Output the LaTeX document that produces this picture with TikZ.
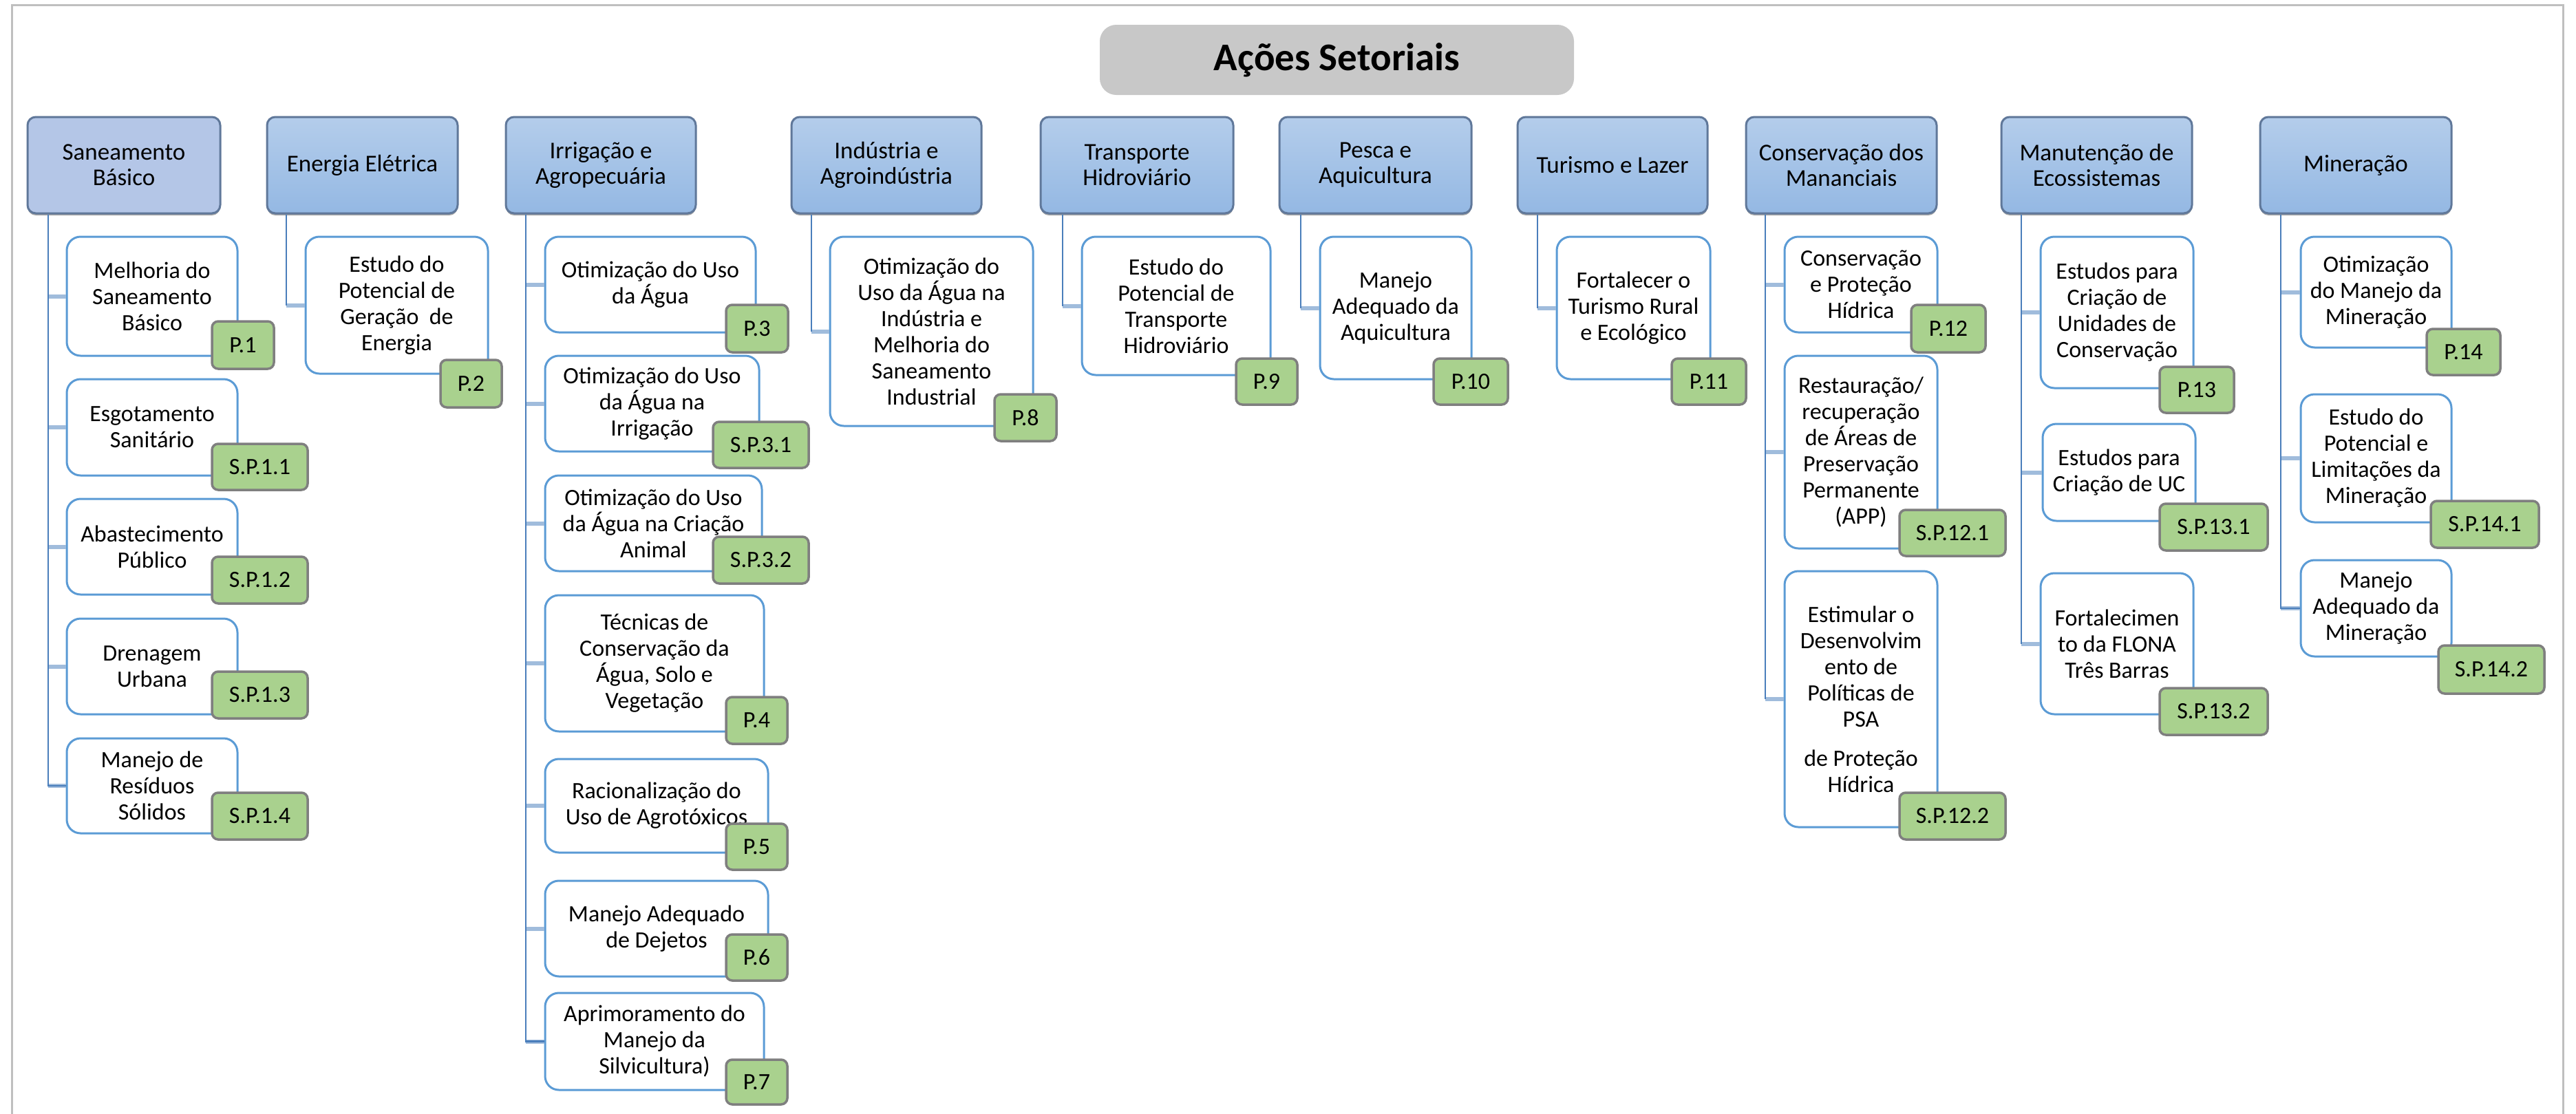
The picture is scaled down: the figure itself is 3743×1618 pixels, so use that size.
\documentclass[tikz,border=0pt]{standalone}
\usepackage{fontspec}
\setmainfont{Carlito}
\usetikzlibrary{shadows}
\definecolor{framegray}{HTML}{BFBFBF}
\definecolor{titlegray}{HTML}{C8C8C8}
\definecolor{hdrtop}{HTML}{B4CDEB}
\definecolor{hdrbot}{HTML}{94B8E3}
\definecolor{hdrline}{HTML}{60789A}
\definecolor{sanfill}{HTML}{B4C6E7}
\definecolor{boxline}{HTML}{5B9BD5}
\definecolor{tagfill}{HTML}{A9D18E}
\definecolor{tagline}{HTML}{7F7F7F}
\definecolor{vlinec}{HTML}{4A7EBB}
\definecolor{stubc}{HTML}{A0BCDC}
\newcommand\hdrfont{\fontsize{35}{37}\selectfont}
\newcommand\boxfont{\fontsize{34}{38}\selectfont}
\newcommand\tagfont{\fontsize{34}{36}\selectfont}
\newcommand\ttlfont{\fontsize{57}{62}\selectfont\bfseries}
\newcommand\bx[7]{\node[#1, minimum width={(#5)-(#3)}, minimum height={(#6)-(#4)}] (#2) at ({((#3)+(#5))/2},{((#4)+(#6))/2}) {#7};}
\begin{document}
\begin{tikzpicture}[x=1pt,y=-1pt,
  hdr/.style={draw=hdrline, line width=3pt, rounded corners=12pt, top color=hdrtop, bottom color=hdrbot, align=center, font=\hdrfont, inner sep=0pt,
    drop shadow={shadow xshift=0pt, shadow yshift=-3pt, fill=black, opacity=0.35}},
  hdrsel/.style={hdr, top color=sanfill, bottom color=sanfill},
  cbox/.style={draw=boxline, line width=3pt, rounded corners=20pt, fill=white, align=center, font=\boxfont, inner sep=0pt},
  tagbox/.style={draw=tagline, line width=3.5pt, rounded corners=9pt, fill=tagfill, align=center, font=\tagfont, inner sep=0pt},
  ttlbox/.style={fill=titlegray, rounded corners=24pt, font=\ttlfont, inner sep=0pt},
  vl/.style={draw=vlinec, line width=2.5pt},
  stubl/.style={draw=stubc, line width=6pt}]
\useasboundingbox (0,0) rectangle (3743,1618);
\draw[framegray, line width=3pt] (17.5,1660) -- (17.5,7) -- (3724,7) -- (3724,1660);

% title
\bx{ttlbox}{title}{1598}{36}{2287}{138}{Ações Setoriais}

% headers
\bx{hdrsel}{h1}{40}{170}{320}{310}{Saneamento\\Básico}
\bx{hdr}{h2}{388}{170}{665}{310}{Energia Elétrica}
\bx{hdr}{h3}{735}{170}{1011}{310}{Irrigação e\\Agropecuária}
\bx{hdr}{h4}{1150}{170}{1426}{310}{Indústria e\\Agroindústria}
\bx{hdr}{h5}{1512}{170}{1792}{310}{Transporte\\Hidroviário}
\bx{hdr}{h6}{1859}{170}{2138}{310}{Pesca e\\Aquicultura}
\bx{hdr}{h7}{2205}{170}{2481}{310}{Turismo e Lazer}
\bx{hdr}{h8}{2537}{170}{2814}{310}{Conservação dos\\Mananciais}
\bx{hdr}{h9}{2908}{170}{3185}{310}{Manutenção de\\Ecossistemas}
\bx{hdr}{h10}{3284}{170}{3562}{310}{Mineração}

% children
\bx{cbox}{c1a}{97}{344}{345}{517}{Melhoria do\\Saneamento\\Básico}
\bx{cbox}{c1b}{97}{551}{345}{691}{Esgotamento\\Sanitário}
\bx{cbox}{c1c}{97}{725}{345}{864}{Abastecimento\\Público}
\bx{cbox}{c1d}{97}{899}{345}{1038}{Drenagem\\Urbana}
\bx{cbox}{c1e}{97}{1073}{345}{1211}{Manejo de\\Resíduos\\Sólidos}

\bx{cbox}{c2a}{444}{344}{709}{543}{Estudo do\\Potencial de\\Geração\ \ de\\Energia}

\bx{cbox}{c3a}{792}{344}{1098}{483}{Otimização do Uso\\da Água}
\bx{cbox}{c3b}{792}{517}{1103}{656}{Otimização do Uso\\da Água na\\Irrigação}
\bx{cbox}{c3c}{792}{691}{1107}{830}{Otimização do Uso\\da Água na Criação\\Animal}
\bx{cbox}{c3d}{792}{865}{1110}{1063}{Técnicas de\\Conservação da\\Água, Solo e\\Vegetação}
\bx{cbox}{c3e}{792}{1103}{1116}{1239}{Racionalização do\\Uso de Agrotóxicos}
\bx{cbox}{c3f}{792}{1280}{1116}{1419}{Manejo Adequado\\de Dejetos}
\bx{cbox}{c3g}{792}{1443}{1110}{1584}{Aprimoramento do\\Manejo da\\Silvicultura)}

\bx{cbox}{c4a}{1206}{344}{1501}{619}{Otimização do\\Uso da Água na\\Indústria e\\Melhoria do\\Saneamento\\Industrial}
\bx{cbox}{c5a}{1572}{344}{1846}{545}{Estudo do\\Potencial de\\Transporte\\Hidroviário}
\bx{cbox}{c6a}{1918}{344}{2138}{551}{Manejo\\Adequado da\\Aquicultura}
\bx{cbox}{c7a}{2262}{344}{2485}{551}{Fortalecer o\\Turismo Rural\\e Ecológico}

\bx{cbox}{c8a}{2593}{344}{2815}{483}{Conservação\\e Proteção\\Hídrica}
\bx{cbox}{c8b}{2593}{517}{2815}{797}{Restauração/\\recuperação\\de Áreas de\\Preservação\\Permanente\\(APP)}
\bx{cbox}{c8c}{2593}{830}{2815}{1202}{Estimular o\\Desenvolvim\\ento de\\Políticas de\\PSA\\[19pt]de Proteção\\Hídrica}

\bx{cbox}{c9a}{2965}{344}{3187}{564}{Estudos para\\Criação de\\Unidades de\\Conservação}
\bx{cbox}{c9b}{2968}{616}{3190}{757}{Estudos para\\Criação de UC}
\bx{cbox}{c9c}{2965}{833}{3187}{1038}{Fortalecimen\\to da FLONA\\Três Barras}

\bx{cbox}{c10a}{3343}{344}{3562}{505}{Otimização\\do Manejo da\\Mineração}
\bx{cbox}{c10b}{3343}{573}{3562}{759}{Estudo do\\Potencial e\\Limitações da\\Mineração}
\bx{cbox}{c10c}{3343}{814}{3562}{954}{Manejo\\Adequado da\\Mineração}

% connectors
\coordinate (v1) at (70,0);
\coordinate (v2) at (416,0);
\coordinate (v3) at (764,0);
\coordinate (v4) at (1179,0);
\coordinate (v5) at (1544,0);
\coordinate (v6) at (1890,0);
\coordinate (v7) at (2234,0);
\coordinate (v8) at (2565,0);
\coordinate (v9) at (2937,0);
\coordinate (v10) at (3314,0);

\foreach \c in {c1a,c1b,c1c,c1d,c1e} \draw[stubl] (v1 |- \c.west) -- (\c.west);
\draw[vl] (v1 |- h1.south) -- (v1 |- c1e.west) -- (c1e.west);
\draw[stubl] (v2 |- c2a.west) -- (c2a.west);
\draw[vl] (v2 |- h2.south) -- (v2 |- c2a.west);
\foreach \c in {c3a,c3b,c3c,c3d,c3e,c3f,c3g} \draw[stubl] (v3 |- \c.west) -- (\c.west);
\draw[vl] (v3 |- h3.south) -- (v3 |- c3g.west) -- (c3g.west);
\draw[stubl] (v4 |- c4a.west) -- (c4a.west);
\draw[vl] (v4 |- h4.south) -- (v4 |- c4a.west);
\draw[stubl] (v5 |- c5a.west) -- (c5a.west);
\draw[vl] (v5 |- h5.south) -- (v5 |- c5a.west);
\draw[stubl] (v6 |- c6a.west) -- (c6a.west);
\draw[vl] (v6 |- h6.south) -- (v6 |- c6a.west);
\draw[stubl] (v7 |- c7a.west) -- (c7a.west);
\draw[vl] (v7 |- h7.south) -- (v7 |- c7a.west);
\foreach \c in {c8a,c8b,c8c} \draw[stubl] (v8 |- \c.west) -- (\c.west);
\draw[vl] (v8 |- h8.south) -- (v8 |- c8c.west);
\foreach \c in {c9a,c9b,c9c} \draw[stubl] (v9 |- \c.west) -- (\c.west);
\draw[vl] (v9 |- h9.south) -- (v9 |- c9c.west);
\foreach \c in {c10a,c10b,c10c} \draw[stubl] (v10 |- \c.west) -- (\c.west);
\draw[vl] (v10 |- h10.south) -- (v10 |- c10c.west) -- (c10c.west);

% tags
\bx{tagbox}{t1a}{308}{467}{398}{536}{P.1}
\bx{tagbox}{t1b}{308}{645}{447}{712}{S.P.1.1}
\bx{tagbox}{t1c}{308}{809}{447}{877}{S.P.1.2}
\bx{tagbox}{t1d}{308}{976}{447}{1044}{S.P.1.3}
\bx{tagbox}{t1e}{308}{1152}{447}{1220}{S.P.1.4}
\bx{tagbox}{t2a}{640}{523}{729}{592}{P.2}
\bx{tagbox}{t3a}{1055}{443}{1145}{512}{P.3}
\bx{tagbox}{t3b}{1036}{613}{1175}{680}{S.P.3.1}
\bx{tagbox}{t3c}{1036}{780}{1175}{848}{S.P.3.2}
\bx{tagbox}{t3d}{1055}{1013}{1144}{1081}{P.4}
\bx{tagbox}{t3e}{1055}{1197}{1144}{1264}{P.5}
\bx{tagbox}{t3f}{1055}{1358}{1144}{1425}{P.6}
\bx{tagbox}{t3g}{1055}{1540}{1144}{1605}{P.7}
\bx{tagbox}{t4a}{1445}{573}{1535}{641}{P.8}
\bx{tagbox}{t5a}{1796}{521}{1885}{588}{P.9}
\bx{tagbox}{t6a}{2083}{521}{2191}{588}{P.10}
\bx{tagbox}{t7a}{2429}{521}{2537}{588}{P.11}
\bx{tagbox}{t8a}{2777}{443}{2885}{512}{P.12}
\bx{tagbox}{t8b}{2760}{741}{2914}{808}{S.P.12.1}
\bx{tagbox}{t8c}{2760}{1152}{2914}{1220}{S.P.12.2}
\bx{tagbox}{t9a}{3138}{533}{3246}{600}{P.13}
\bx{tagbox}{t9b}{3138}{732}{3295}{800}{S.P.13.1}
\bx{tagbox}{t9c}{3138}{1000}{3295}{1068}{S.P.13.2}
\bx{tagbox}{t10a}{3526}{478}{3633}{545}{P.14}
\bx{tagbox}{t10b}{3532}{728}{3689}{796}{S.P.14.1}
\bx{tagbox}{t10c}{3543}{938}{3697}{1008}{S.P.14.2}
\end{tikzpicture}
\end{document}
